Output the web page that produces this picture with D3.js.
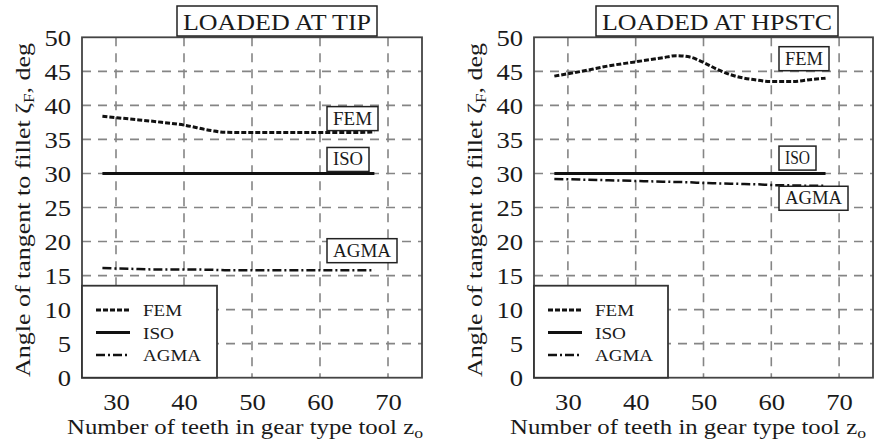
<!DOCTYPE html>
<html><head><meta charset="utf-8">
<script src="https://cdn.jsdelivr.net/npm/d3@7"></script>
</head><body style="margin:0;background:#fff"><svg id="c" width="886" height="446" style="display:block;background:#fff"></svg>
<script>
// ---- data ----
const xTicks = [30, 40, 50, 60, 70];
const yTicks = [0, 5, 10, 15, 20, 25, 30, 35, 40, 45, 50];
const seriesNames = ["FEM", "ISO", "AGMA"];
const panelTitles = ["LOADED AT TIP", "LOADED AT HPSTC"];

const tipX    = [28, 32, 36, 40, 44, 46, 50, 55, 60, 65, 68];
const tipFEM  = [38.4, 38.0, 37.6, 37.1, 36.3, 36.05, 36.0, 36.0, 36.0, 36.0, 36.1];
const tipISO  = [30, 30, 30, 30, 30, 30, 30, 30, 30, 30, 30];
const tipAGMA = [16.1, 16.0, 15.9, 15.9, 15.85, 15.8, 15.8, 15.8, 15.8, 15.8, 15.8];

const hpX     = [28, 32, 36, 40, 44, 46, 48, 50, 52, 54, 56, 58, 60, 63, 66, 68];
const hpFEM   = [44.3, 45.0, 45.8, 46.4, 47.0, 47.3, 47.1, 46.3, 45.3, 44.5, 44.0, 43.7, 43.5, 43.5, 43.8, 44.0];
const hpISO   = [30, 30, 30, 30, 30, 30, 30, 30, 30, 30, 30, 30, 30, 30, 30, 30];
const hpAGMA  = [29.2, 29.1, 29.0, 28.9, 28.8, 28.75, 28.7, 28.6, 28.55, 28.5, 28.45, 28.4, 28.3, 28.25, 28.2, 28.2];

// ---- layout ----
const FONT = '"Liberation Serif", "Times New Roman", serif';
const svg = d3.select("#c");
const styles = {
  FEM:  {w: 3, dash: "5,2"},
  ISO:  {w: 3, dash: null},
  AGMA: {w: 2.5, dash: "9,3,2,3"}
};
const panels = [
  {x0: 82, x1: 422, title: panelTitles[0], titleBox: [177, 377],
   xs: tipX, ys: [tipFEM, tipISO, tipAGMA],
   labels: [{n: "FEM", x: 327, w: 51, y: 36}, {n: "ISO", x: 327, w: 42, y: 30}, {n: "AGMA", x: 327, w: 70, y: 16.6}], legendW: 135,
   xtx: 67, ytx: 30},
  {x0: 534, x1: 873, title: panelTitles[1], titleBox: [596, 838],
   xs: hpX, ys: [hpFEM, hpISO, hpAGMA],
   labels: [{n: "FEM", x: 779, w: 50, y: 44.8}, {n: "ISO", x: 779, w: 37, y: 30.2}, {n: "AGMA", x: 779, w: 69, y: 24.3}], legendW: 134,
   xtx: 510, ytx: 482}
];
const yTop = 37.3, yBot = 377.7;

function txt(sel) { return sel.style("font-family", FONT).attr("fill", "#1a1a1a"); }

panels.forEach(p => {
  const x = d3.scaleLinear().domain([25, 75]).range([p.x0, p.x1]);
  const y = d3.scaleLinear().domain([0, 50]).range([yBot, yTop]);
  const g = svg.append("g");

  // grid
  g.selectAll(".gx").data(xTicks).enter().append("line")
    .attr("x1", d => x(d)).attr("x2", d => x(d)).attr("y1", yTop).attr("y2", yBot)
    .attr("stroke", "#858585").attr("stroke-width", 1.6).attr("stroke-dasharray", "9,7");
  g.selectAll(".gy").data(yTicks.filter(d => d > 0 && d < 50)).enter().append("line")
    .attr("y1", d => y(d)).attr("y2", d => y(d)).attr("x1", p.x0).attr("x2", p.x1)
    .attr("stroke", "#858585").attr("stroke-width", 1.6).attr("stroke-dasharray", "9,7");

  // axes
  const ya = d3.axisLeft(y).tickValues(yTicks).tickSize(0).tickPadding(11);
  const yg = g.append("g").attr("transform", `translate(${p.x0},0)`).call(ya);
  yg.select(".domain").remove();
  yg.attr("font-family", null).attr("font-size", null);
  txt(yg.selectAll("text")).attr("font-size", 23).attr("dy", "0.34em")
    .attr("textLength", d => String(d).length * 13.3).attr("lengthAdjust", "spacingAndGlyphs");
  const xa = d3.axisBottom(x).tickValues(xTicks).tickSize(0).tickPadding(16);
  const xg = g.append("g").attr("transform", `translate(0,${yBot})`).call(xa);
  xg.select(".domain").remove();
  xg.attr("font-family", null).attr("font-size", null);
  txt(xg.selectAll("text")).attr("font-size", 23)
    .attr("textLength", d => String(d).length * 13.3).attr("lengthAdjust", "spacingAndGlyphs");

  // lines
  seriesNames.forEach((n, i) => {
    const line = d3.line().x((d, j) => x(p.xs[j])).y(d => y(d)).curve(d3.curveMonotoneX);
    g.append("path").datum(p.ys[i]).attr("d", line).attr("fill", "none")
      .attr("stroke", "#111").attr("stroke-width", styles[n].w)
      .attr("stroke-dasharray", styles[n].dash);
  });

  // frame
  g.append("rect").attr("x", p.x0).attr("y", yTop).attr("width", p.x1 - p.x0).attr("height", yBot - yTop)
    .attr("fill", "none").attr("stroke", "#444").attr("stroke-width", 1.8);

  // series labels
  p.labels.forEach(l => {
    const by = y(l.y) - 2;
    g.append("rect").attr("x", l.x).attr("y", by - 24).attr("width", l.w).attr("height", 24)
      .attr("fill", "#fff").attr("stroke", "#222").attr("stroke-width", 1.5);
    txt(g.append("text")).attr("x", l.x + l.w / 2).attr("y", by - 6).attr("text-anchor", "middle")
      .attr("font-size", 18).attr("textLength", l.w - 12).attr("lengthAdjust", "spacingAndGlyphs").text(l.n);
  });

  // title box
  const [tb0, tb1] = p.titleBox;
  g.append("rect").attr("x", tb0).attr("y", 6).attr("width", tb1 - tb0).attr("height", 30)
    .attr("fill", "#fff").attr("stroke", "#222").attr("stroke-width", 1.5);
  txt(g.append("text")).attr("x", (tb0 + tb1) / 2).attr("y", 30).attr("text-anchor", "middle")
    .attr("font-size", 23).attr("textLength", tb1 - tb0 - 12).attr("lengthAdjust", "spacingAndGlyphs").text(p.title);

  // legend
  const lg = g.append("g");
  lg.append("rect").attr("x", p.x0).attr("y", 285.7).attr("width", p.legendW).attr("height", yBot - 285.7)
    .attr("fill", "#fff").attr("stroke", "#333").attr("stroke-width", 1.8);
  seriesNames.forEach((n, i) => {
    const ly = 310 + i * 22.5;
    lg.append("line").attr("x1", p.x0 + 14).attr("x2", p.x0 + 48).attr("y1", ly).attr("y2", ly)
      .attr("stroke", "#111").attr("stroke-width", styles[n].w).attr("stroke-dasharray", styles[n].dash);
    txt(lg.append("text")).attr("x", p.x0 + 61).attr("y", ly + 6).attr("font-size", 17)
      .attr("textLength", n === "AGMA" ? 58 : n === "FEM" ? 39 : 31).attr("lengthAdjust", "spacingAndGlyphs").text(n);
  });

  // x axis title
  const xt = txt(g.append("text")).attr("x", p.xtx).attr("y", 434).attr("font-size", 21)
    .attr("textLength", 356).attr("lengthAdjust", "spacingAndGlyphs");
  xt.append("tspan").text("Number of teeth in gear type tool z");
  xt.append("tspan").attr("font-size", 15).attr("dy", 4).text("o");

  // y axis title
  const yt = txt(g.append("text")).attr("transform", `translate(${p.ytx},377) rotate(-90)`).attr("font-size", 21)
    .attr("textLength", 334).attr("lengthAdjust", "spacingAndGlyphs");
  yt.append("tspan").text("Angle of tangent to fillet ζ");
  yt.append("tspan").attr("font-size", 14).attr("dy", 4).text("F");
  yt.append("tspan").attr("dy", -4).text(", deg");
});
</script></body></html>
